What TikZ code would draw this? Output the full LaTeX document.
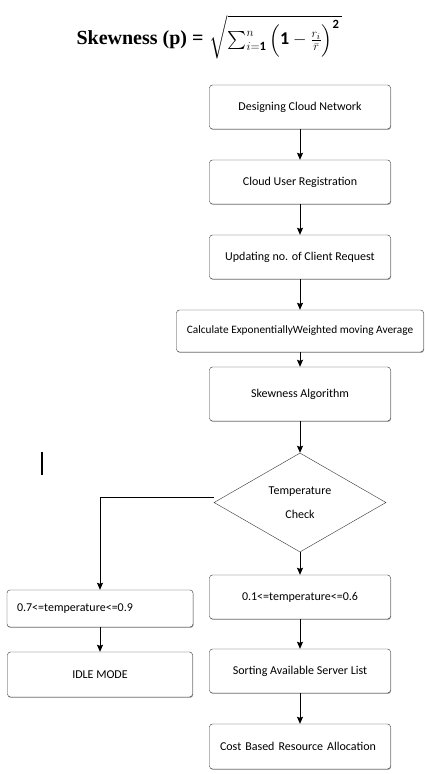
\documentclass[tikz,border=0pt]{standalone}
\usepackage{amsmath,amssymb}
\usepackage{fontspec}
\setmainfont{Carlito}
\newfontfamily\titlefont{Liberation Serif}
\usepackage{tikz}
\usetikzlibrary{shapes.geometric,arrows.meta,positioning,calc,shadows}

\begin{document}
\begin{tikzpicture}[
  x=1pt,y=-1pt,
  box/.style={rectangle,draw=black!80,rounded corners=3pt,minimum width=181pt,
              minimum height=44pt,text centered,inner sep=0pt,fill=white,
              font=\fontsize{12}{14}\selectfont,
              drop shadow={shadow xshift=0.6pt,shadow yshift=-0.9pt,fill=black!70}},
  lbox/.style={box,align=left,text width=160pt},
  check/.style={diamond,draw=black!80,fill=white,minimum width=172pt,
                minimum height=99pt,inner sep=0pt,align=center,
                font=\fontsize{12}{24}\selectfont},
  arrow/.style={-{Stealth[length=7pt,width=6pt,inset=1pt]},line width=1pt}
]
\useasboundingbox (0,0) rectangle (424,774);

\node[font=\titlefont\bfseries\fontsize{20}{24}\selectfont] (title) at (140,40) {Skewness (p) =};
\node[anchor=base west,font=\fontsize{18}{22}\selectfont] (form) at ([xshift=-1pt]title.base east)
  {$\sqrt{\sum_{i=\mathbf{1}}^{n}\,\Bigl(\mathbf{1}-\frac{r_i}{\bar{r}}\Bigr)^{\mathbf{2}}\,}$};

% right column
\node[box]                   (design)  at (300,107)   {Designing Cloud Network};
\node[box]                   (reg)     at (300,182)   {Cloud User Registration};
\node[box]                   (update)  at (300,257)   {Updating no. of Client Request};
\node[box,minimum width=247pt,minimum height=42pt,
      font=\fontsize{11.3}{13}\selectfont] (ewma) at (300,331)
  {Calculate ExponentiallyWeighted moving Average};
\node[box,minimum height=54pt] (skewalg) at (300,394)   {Skewness Algorithm};
\node[check]                 (chk)     at (300,502.5) {Temperature\\Check};
\node[box]                   (low)     at (300,597)   {0.1<=temperature<=0.6};
\node[box]                   (sort)    at (300,671)   {Sorting Available Server List};
\node[lbox,minimum height=45pt] (cost) at (300,746.5) {Cost Based Resource Allocation};

% left column
\node[lbox,minimum width=186pt,minimum height=37pt,text width=166pt] (high) at (100,608.5)
  {0.7<=temperature<=0.9};
\node[box,minimum width=185pt,minimum height=45pt] (idle) at (100,674.5) {IDLE MODE};

\draw[arrow] (design) -- (reg);
\draw[arrow] (reg) -- (update);
\draw[arrow] (update) -- (ewma);
\draw[arrow] (ewma) -- (skewalg);
\draw[arrow] (skewalg) -- (chk);
\draw[arrow] (chk) -- (low);
\draw[arrow] (low) -- (sort);
\draw[arrow] (sort) -- (cost);
\draw[arrow] ([yshift=5pt]chk.west) -| (high.north);
\draw[arrow] (high) -- (idle);

\draw[line width=1.6pt] (42,452) -- (42,475);
\end{tikzpicture}
\end{document}
